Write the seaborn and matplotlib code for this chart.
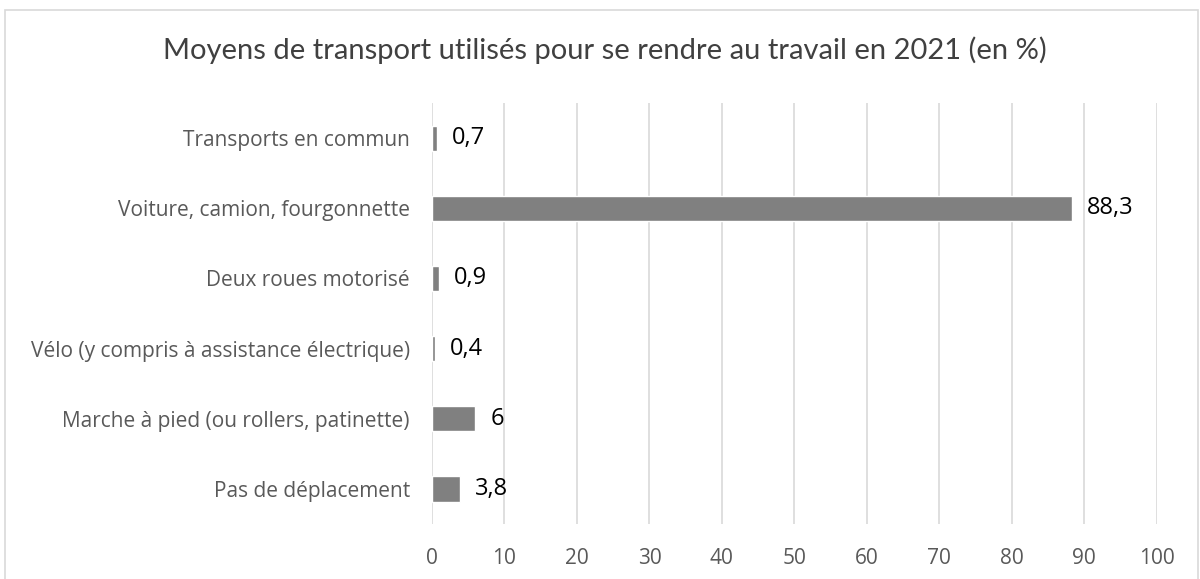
import matplotlib
matplotlib.use('Agg')
import matplotlib.pyplot as plt
import seaborn as sns
import pandas as pd
from matplotlib.patches import Rectangle

# data
categories = ['Transports en commun', 'Voiture, camion, fourgonnette', 'Deux roues motorisé',
              'Vélo (y compris à assistance électrique)', 'Marche à pied (ou rollers, patinette)',
              'Pas de déplacement']
values = [0.7, 88.3, 0.9, 0.4, 6, 3.8]
value_labels = ['0,7', '88,3', '0,9', '0,4', '6', '3,8']
x_ticks = [0, 10, 20, 30, 40, 50, 60, 70, 80, 90, 100]

df = pd.DataFrame({'mode': categories, 'pct': values})

sns.set_style('white')
plt.rcParams['font.family'] = ['Open Sans', 'DejaVu Sans']

fig = plt.figure(figsize=(12, 5.79), dpi=100)
ax = fig.add_axes([0.36, 0.095, 0.604, 0.727])

sns.barplot(data=df, y='mode', x='pct', color='#808080', saturation=1,
            width=0.36, orient='h', ax=ax)

ax.bar_label(ax.containers[0], labels=value_labels, padding=11, fontsize=17, color='black')

ax.set_xlim(0, 100)
ax.set_ylim(5.5, -0.5)
ax.set_xticks(x_ticks)
ax.grid(axis='x', color='#d9d9d9', linewidth=1.2)
ax.set_axisbelow(True)
for s in ax.spines.values():
    s.set_visible(False)
ax.tick_params(axis='both', length=0, labelsize=15, labelcolor='#595959')
ax.tick_params(axis='y', pad=16)
ax.tick_params(axis='x', pad=17)
ax.set_xlabel('')
ax.set_ylabel('')

fig.text(0.504, 0.913, 'Moyens de transport utilisés pour se rendre au travail en 2021 (en %)',
         ha='center', va='center', fontsize=21, color='#404040', family=['Lato', 'DejaVu Sans'])

fig.patches.append(Rectangle((0.004, -0.01), 0.994, 0.993, transform=fig.transFigure,
                             fill=False, edgecolor='#d9d9d9', linewidth=1.2))

fig.savefig('out.png', dpi=100)
